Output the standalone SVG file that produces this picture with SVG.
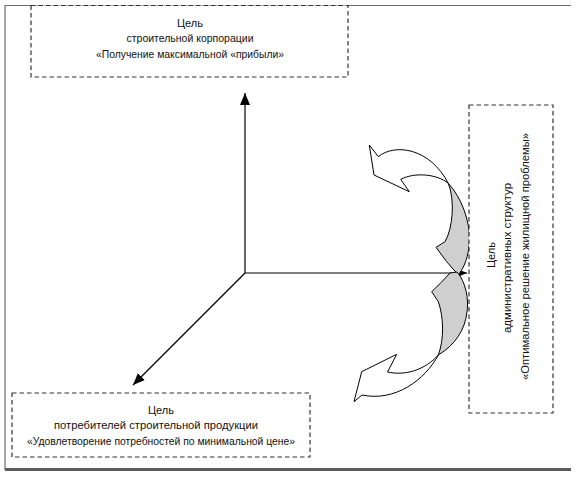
<svg xmlns="http://www.w3.org/2000/svg" width="578" height="478" viewBox="0 0 578 478">
<style>
  .frame { fill: none; stroke: #6e6e6e; stroke-width: 1.2; }
  .frameB { fill: none; stroke: #5c5c5c; stroke-width: 3; }
  .box { fill: #ffffff; stroke: #333333; stroke-width: 1.2; stroke-dasharray: 4.5 3; }
  .axis { fill: none; stroke: #000000; stroke-width: 1.2; }
  .lbl { font-family: "Liberation Sans", Arial, sans-serif; font-size: 11px; fill: #111111; text-anchor: middle; }
  .rib-w { fill: #ffffff; stroke: #000000; stroke-width: 1; stroke-linejoin: miter; }
  .rib-g { fill: #cfcfcf; stroke: #000000; stroke-width: 1; }
</style>
<defs>
  <marker id="ah" viewBox="0 0 12 10" refX="12" refY="5" markerWidth="12" markerHeight="10" markerUnits="userSpaceOnUse" orient="auto">
    <path d="M0,0 L12,5 L0,10 Z" fill="#000000"/>
  </marker>
</defs>
<rect width="578" height="478" fill="#ffffff"/>
<g id="frame">
  <path class="frame" d="M5,470 L5,5.5 L571,5.5"/>
  <path class="frameB" d="M5,469.5 L571,469.5"/>
</g>
<g id="connectors">
  <line class="axis" x1="245" y1="273" x2="245" y2="93" marker-end="url(#ah)"/>
  <line class="axis" x1="245" y1="273" x2="467" y2="273" marker-end="url(#ah)"/>
  <line class="axis" x1="245" y1="273" x2="133" y2="385" marker-end="url(#ah)"/>
</g>
<g id="arrow-up">
  <path class="rib-g" d="M448.3,183.3 C462,198 470,222 469.5,240 C469,256 464,268 458.3,275 Q446,262 436,247.3 L445,241.7 C453,228 455,200 448.3,183.3 Z"/>
  <path class="rib-w" d="M448.3,183.3 C430,148 395,143 378.3,156.7 L369.3,145 L374,175 L409.3,191.7 L400.7,179.3 C415,172 437,174 448.3,183.3 Z"/>
</g>
<g id="arrow-down">
  <path class="rib-g" d="M457,272 C466,282 469,300 467,312 C465,330 455,345 438.3,355 C444,340 444,318 438.3,301.7 L431.7,291.7 Q442,282 450,273 Z"/>
  <path class="rib-w" d="M438.3,355 C425,380 395,402 362,395 L354,401.7 L361.7,371.7 L396.7,354.3 L387.5,372 C405,376 425,370 438.3,355 Z"/>
</g>
<g id="node-corp">
  <rect class="box" x="31" y="5.5" width="317" height="71.5"/>
  <text class="lbl" x="190" y="26.5">Цель</text>
  <text class="lbl" x="190" y="42" textLength="127" lengthAdjust="spacingAndGlyphs">строительной корпорации</text>
  <text class="lbl" x="190" y="57.5" textLength="188" lengthAdjust="spacingAndGlyphs">«Получение максимальной «прибыли»</text>
</g>
<g id="node-consumers">
  <rect class="box" x="12" y="393" width="298" height="64"/>
  <text class="lbl" x="161" y="413.5">Цель</text>
  <text class="lbl" x="156" y="429" textLength="204" lengthAdjust="spacingAndGlyphs">потребителей строительной продукции</text>
  <text class="lbl" x="161" y="444.5" textLength="268" lengthAdjust="spacingAndGlyphs">«Удовлетворение потребностей по минимальной цене»</text>
</g>
<g id="node-admin">
  <rect class="box" x="469" y="105" width="84" height="308"/>
  <text class="lbl" transform="translate(495,255) rotate(-90)">Цель</text>
  <text class="lbl" transform="translate(511,258) rotate(-90)" textLength="150" lengthAdjust="spacingAndGlyphs">административных структур</text>
  <text class="lbl" transform="translate(528.5,256.5) rotate(-90)" textLength="247" lengthAdjust="spacingAndGlyphs">«Оптимальное решение жилищной проблемы»</text>
</g>
</svg>
